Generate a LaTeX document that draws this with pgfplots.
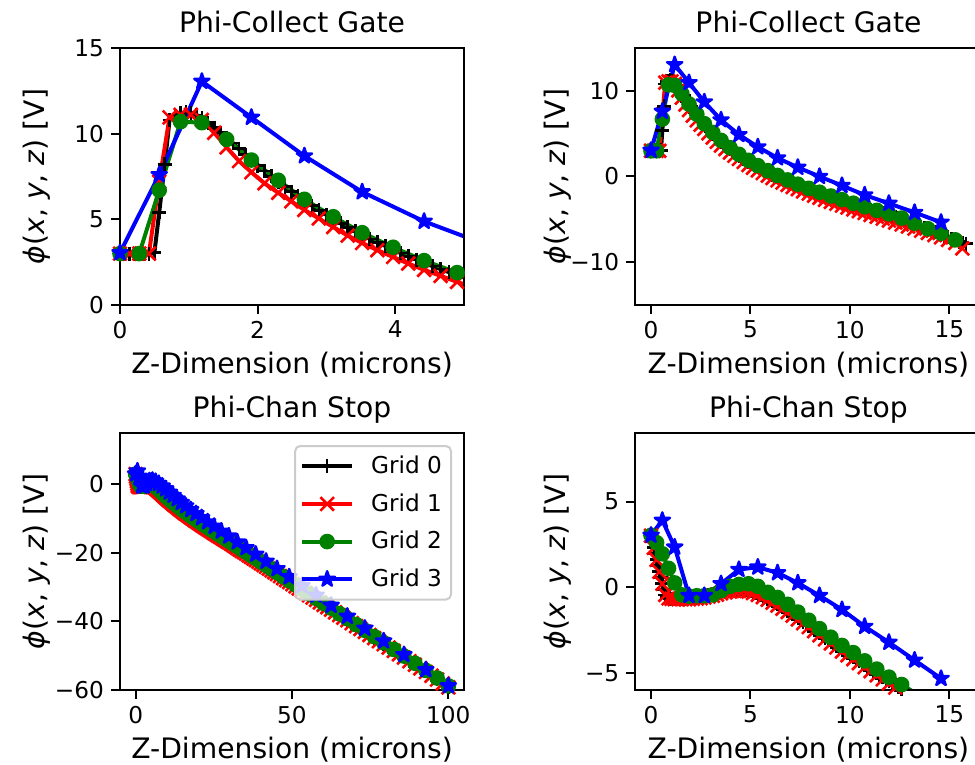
\documentclass[border=0pt]{standalone}
\usepackage{fontspec}
\setmainfont{DejaVu Sans}[ItalicFont={DejaVu Sans Oblique}]
\usepackage{pgfplots}
\pgfplotsset{compat=1.18}
\usepackage{pgfplotstable}
\definecolor{mplgreen}{rgb}{0,0.5,0}
\definecolor{legedge}{rgb}{0.8,0.8,0.8}
\newcommand{\tickfont}{\fontsize{11.6}{13.9}\selectfont}
\newcommand{\labfont}{\fontsize{14.1}{16.9}\selectfont}

\pgfdeclareplotmark{mplstar}{%
  \pgfpathmoveto{\pgfqpointpolar{90}{\pgfplotmarksize}}%
  \pgfpathlineto{\pgfqpointpolar{126}{0.382\pgfplotmarksize}}%
  \pgfpathlineto{\pgfqpointpolar{162}{\pgfplotmarksize}}%
  \pgfpathlineto{\pgfqpointpolar{198}{0.382\pgfplotmarksize}}%
  \pgfpathlineto{\pgfqpointpolar{234}{\pgfplotmarksize}}%
  \pgfpathlineto{\pgfqpointpolar{270}{0.382\pgfplotmarksize}}%
  \pgfpathlineto{\pgfqpointpolar{306}{\pgfplotmarksize}}%
  \pgfpathlineto{\pgfqpointpolar{342}{0.382\pgfplotmarksize}}%
  \pgfpathlineto{\pgfqpointpolar{18}{\pgfplotmarksize}}%
  \pgfpathlineto{\pgfqpointpolar{54}{0.382\pgfplotmarksize}}%
  \pgfpathclose
  \pgfusepathqfillstroke
}

% ---------------- Phi-Collect Gate ----------------
\pgfplotstableread{
x y
0 3.0
0.07 3.0
0.14 3.0
0.21 3.0
0.28 3.0
0.35 3.0
0.42 3.0
0.5 3.05
0.57 5.4
0.65 8.2
0.72 10.8
0.8 11.1
0.88 11.2
0.96 11.25
1.03 11.2
1.11 11.1
1.19 10.9
1.28 10.65
1.37 10.35
1.46 10.05
1.55 9.75
1.64 9.45
1.73 9.12
1.82 8.78
1.91 8.45
2.0 8.14
2.1 7.82
2.2 7.5
2.3 7.2
2.4 6.9
2.49 6.62
2.59 6.35
2.68 6.08
2.79 5.8
2.89 5.53
3.0 5.26
3.1 5.0
3.21 4.76
3.31 4.53
3.42 4.3
3.52 4.07
3.63 3.86
3.74 3.65
3.86 3.44
3.97 3.23
4.08 3.03
4.19 2.84
4.31 2.65
4.42 2.45
4.54 2.27
4.66 2.09
4.78 1.92
4.9 1.74
5.02 1.58
5.13 1.42
5.25 1.27
5.37 1.11
5.5 0.95
5.62 0.8
5.75 0.65
5.87 0.51
5.99 0.37
6.11 0.23
6.24 0.09
6.36 -0.04
6.49 -0.17
6.61 -0.3
6.74 -0.43
6.87 -0.56
7.0 -0.68
7.12 -0.8
7.25 -0.93
7.38 -1.05
7.52 -1.17
7.65 -1.29
7.79 -1.41
7.93 -1.53
8.07 -1.65
8.2 -1.76
8.34 -1.88
8.47 -1.99
8.61 -2.1
8.75 -2.21
8.9 -2.32
9.04 -2.43
9.18 -2.53
9.32 -2.64
9.46 -2.74
9.6 -2.85
9.74 -2.95
9.88 -3.06
10.03 -3.16
10.17 -3.27
10.31 -3.37
10.45 -3.47
10.6 -3.57
10.74 -3.68
10.89 -3.78
11.04 -3.89
11.2 -3.99
11.35 -4.1
11.5 -4.2
11.65 -4.3
11.81 -4.41
11.96 -4.51
12.12 -4.63
12.28 -4.75
12.44 -4.87
12.6 -5.0
12.76 -5.14
12.92 -5.28
13.09 -5.43
13.25 -5.58
13.42 -5.74
13.58 -5.9
13.75 -6.06
13.92 -6.22
14.09 -6.36
14.25 -6.5
14.42 -6.64
14.58 -6.78
14.76 -6.94
14.94 -7.1
15.12 -7.27
15.3 -7.45
15.48 -7.6
15.65 -7.72
15.83 -7.85
}\gateA

\pgfplotstableread{
x y
0 3.0
0.14 3.0
0.28 3.0
0.42 3.0
0.57 7.2
0.72 10.95
0.88 11.1
1.03 11.1
1.19 10.8
1.37 10.05
1.55 9.2
1.73 8.4
1.91 7.75
2.1 7.1
2.3 6.55
2.49 6.05
2.68 5.55
2.89 5.05
3.1 4.55
3.31 4.05
3.52 3.62
3.74 3.2
3.97 2.8
4.19 2.42
4.42 2.05
4.66 1.7
4.9 1.35
5.13 1.02
5.37 0.7
5.62 0.4
5.87 0.1
6.11 -0.18
6.36 -0.45
6.61 -0.72
6.87 -0.98
7.12 -1.23
7.38 -1.48
7.65 -1.74
7.93 -2.0
8.2 -2.24
8.47 -2.48
8.75 -2.72
9.04 -2.96
9.32 -3.18
9.6 -3.4
9.88 -3.62
10.17 -3.84
10.45 -4.05
10.74 -4.26
11.04 -4.48
11.35 -4.7
11.65 -4.92
11.96 -5.14
12.28 -5.37
12.6 -5.6
12.92 -5.84
13.25 -6.08
13.58 -6.33
13.92 -6.58
14.25 -6.84
14.58 -7.1
14.94 -7.4
15.3 -7.75
15.65 -8.4
}\gateB

\pgfplotstableread{
x y
0 3.0
0.28 3.0
0.57 6.7
0.88 10.7
1.19 10.64
1.55 9.67
1.91 8.46
2.3 7.28
2.68 6.17
3.1 5.15
3.52 4.22
3.97 3.37
4.42 2.59
4.9 1.89
5.37 1.27
5.87 0.68
6.36 0.12
6.87 -0.4
7.38 -0.9
7.93 -1.38
8.47 -1.84
9.04 -2.28
9.6 -2.7
10.17 -3.12
10.74 -3.53
11.35 -3.95
11.96 -4.36
12.6 -4.85
13.25 -5.45
13.92 -6.1
14.58 -6.62
15.3 -7.4
}\gateC

\pgfplotstableread{
x y
0 3.05
0.57 7.6
1.19 13.05
1.91 10.95
2.68 8.7
3.52 6.6
4.42 4.88
5.37 3.45
6.36 2.16
7.38 1.06
8.47 0.0
9.6 -1.06
10.74 -2.16
11.96 -3.14
13.25 -4.2
14.58 -5.35
}\gateD

% ---------------- Phi-Chan Stop ----------------
\pgfplotstableread{
x y
0 3.0
0.07 2.65
0.14 2.3
0.21 1.95
0.28 1.6
0.35 1.25
0.42 0.9
0.5 0.55
0.57 0.2
0.65 -0.15
0.72 -0.45
0.8 -0.58
0.88 -0.63
0.96 -0.65
1.03 -0.66
1.11 -0.66
1.19 -0.66
1.28 -0.66
1.37 -0.66
1.46 -0.66
1.55 -0.66
1.64 -0.66
1.73 -0.66
1.82 -0.65
1.91 -0.65
2.0 -0.64
2.1 -0.63
2.2 -0.62
2.3 -0.61
2.4 -0.59
2.49 -0.57
2.59 -0.55
2.68 -0.53
2.79 -0.5
2.89 -0.47
3.0 -0.44
3.1 -0.41
3.21 -0.37
3.31 -0.34
3.42 -0.3
3.52 -0.27
3.63 -0.24
3.74 -0.21
3.86 -0.18
3.97 -0.16
4.08 -0.14
4.19 -0.13
4.31 -0.12
4.42 -0.12
4.54 -0.12
4.66 -0.13
4.78 -0.15
4.9 -0.18
5.02 -0.22
5.13 -0.26
5.25 -0.31
5.37 -0.37
5.5 -0.43
5.62 -0.5
5.75 -0.58
5.87 -0.66
5.99 -0.74
6.11 -0.82
6.24 -0.91
6.36 -1.0
6.49 -1.09
6.61 -1.18
6.74 -1.28
6.87 -1.38
7.0 -1.48
7.12 -1.58
7.25 -1.69
7.38 -1.8
7.52 -1.91
7.65 -2.02
7.79 -2.13
7.93 -2.25
8.07 -2.36
8.2 -2.47
8.34 -2.59
8.47 -2.7
8.61 -2.82
8.75 -2.94
8.9 -3.06
9.04 -3.18
9.18 -3.3
9.32 -3.41
9.46 -3.53
9.6 -3.64
9.74 -3.75
9.88 -3.86
10.03 -3.97
10.17 -4.08
10.31 -4.19
10.45 -4.3
10.6 -4.42
10.74 -4.53
10.89 -4.65
11.04 -4.77
11.2 -4.89
11.35 -5.01
11.5 -5.13
11.65 -5.25
11.81 -5.37
11.96 -5.49
12.12 -5.61
12.28 -5.73
12.44 -5.85
12.6 -5.97
12.76 -6.09
12.92 -6.21
13.09 -6.33
13.25 -6.45
13.42 -6.57
13.58 -6.69
13.75 -6.81
13.92 -6.93
14.09 -7.05
14.25 -7.17
14.42 -7.29
14.58 -7.41
14.94 -7.65
15.3 -7.9
15.65 -8.15
16.0 -8.4
16.4 -8.65
16.8 -8.9
17.2 -9.18
17.6 -9.45
18.03 -9.73
18.45 -10.0
18.88 -10.28
19.3 -10.55
19.75 -10.83
20.2 -11.1
20.65 -11.38
21.1 -11.65
21.58 -11.95
22.05 -12.25
22.53 -12.53
23.0 -12.8
23.53 -13.13
24.05 -13.45
24.58 -13.75
25.1 -14.05
25.68 -14.4
26.25 -14.75
26.83 -15.08
27.4 -15.4
28.0 -15.75
28.6 -16.1
29.2 -16.45
29.8 -16.8
30.48 -17.2
31.15 -17.6
31.83 -18.0
32.5 -18.4
33.2 -18.83
33.9 -19.25
34.6 -19.65
35.3 -20.05
36.08 -20.53
36.85 -21.0
37.63 -21.45
38.4 -21.9
39.23 -22.4
40.05 -22.9
40.88 -23.4
41.7 -23.9
42.58 -24.43
43.45 -24.95
44.33 -25.48
45.2 -26.0
46.18 -26.6
47.15 -27.2
48.13 -27.78
49.1 -28.35
50.13 -28.98
51.15 -29.6
52.18 -30.23
53.2 -30.85
54.33 -31.53
55.45 -32.2
56.58 -32.88
57.7 -33.55
58.9 -34.28
60.1 -35.0
61.3 -35.7
62.5 -36.4
63.8 -37.2
65.1 -38.0
66.4 -38.75
67.7 -39.5
69.1 -40.35
70.5 -41.2
71.9 -42.05
73.3 -42.9
74.8 -43.8
76.3 -44.7
77.8 -45.6
79.3 -46.5
80.93 -47.48
82.55 -48.45
84.18 -49.43
85.8 -50.4
87.55 -51.45
89.3 -52.5
91.05 -53.55
92.8 -54.6
94.6 -55.7
96.4 -56.8
98.2 -57.95
100.0 -59.1
}\chanA

\pgfplotstableread{
x y
0 3.0
0.14 2.3
0.28 1.6
0.42 0.9
0.57 0.2
0.72 -0.45
0.88 -0.65
1.03 -0.68
1.19 -0.7
1.37 -0.7
1.55 -0.7
1.73 -0.7
1.91 -0.7
2.1 -0.68
2.3 -0.66
2.49 -0.64
2.68 -0.6
2.89 -0.55
3.1 -0.5
3.31 -0.43
3.52 -0.36
3.74 -0.3
3.97 -0.25
4.19 -0.22
4.42 -0.21
4.66 -0.22
4.9 -0.26
5.13 -0.34
5.37 -0.45
5.62 -0.58
5.87 -0.73
6.11 -0.9
6.36 -1.07
6.61 -1.26
6.87 -1.45
7.12 -1.66
7.38 -1.88
7.65 -2.1
7.93 -2.33
8.2 -2.56
8.47 -2.8
8.75 -3.04
9.04 -3.28
9.32 -3.52
9.6 -3.75
9.88 -3.97
10.17 -4.2
10.45 -4.43
10.74 -4.67
11.04 -4.9
11.35 -5.14
11.65 -5.38
11.96 -5.62
12.28 -5.86
12.6 -6.1
12.92 -6.34
13.25 -6.58
13.58 -6.82
13.92 -7.06
14.25 -7.3
14.58 -7.55
14.94 -7.8
15.3 -8.05
15.65 -8.3
16.0 -8.55
16.4 -8.8
16.8 -9.05
17.2 -9.33
17.6 -9.6
18.03 -9.88
18.45 -10.15
18.88 -10.43
19.3 -10.7
19.75 -10.98
20.2 -11.25
20.65 -11.53
21.1 -11.8
21.58 -12.1
22.05 -12.4
22.53 -12.68
23.0 -12.95
23.53 -13.28
24.05 -13.6
24.58 -13.9
25.1 -14.2
25.68 -14.55
26.25 -14.9
26.83 -15.23
27.4 -15.55
28.0 -15.9
28.6 -16.25
29.2 -16.6
29.8 -16.95
30.48 -17.35
31.15 -17.75
31.83 -18.15
32.5 -18.55
33.2 -18.98
33.9 -19.4
34.6 -19.8
35.3 -20.2
36.08 -20.68
36.85 -21.15
37.63 -21.6
38.4 -22.05
39.23 -22.55
40.05 -23.05
40.88 -23.55
41.7 -24.05
42.58 -24.58
43.45 -25.1
44.33 -25.63
45.2 -26.15
46.18 -26.75
47.15 -27.35
48.13 -27.93
49.1 -28.5
50.13 -29.13
51.15 -29.75
52.18 -30.38
53.2 -31.0
54.33 -31.68
55.45 -32.35
56.58 -33.03
57.7 -33.7
58.9 -34.43
60.1 -35.15
61.3 -35.85
62.5 -36.55
63.8 -37.35
65.1 -38.15
66.4 -38.9
67.7 -39.65
69.1 -40.5
70.5 -41.35
71.9 -42.2
73.3 -43.05
74.8 -43.95
76.3 -44.85
77.8 -45.75
79.3 -46.65
80.93 -47.63
82.55 -48.6
84.18 -49.58
85.8 -50.55
87.55 -51.6
89.3 -52.65
91.05 -53.7
92.8 -54.75
94.6 -55.85
96.4 -56.95
98.2 -58.1
100.0 -59.25
}\chanB

\pgfplotstableread{
x y
0 3.03
0.28 2.6
0.57 1.95
0.88 1.1
1.19 0.25
1.55 -0.45
1.91 -0.52
2.3 -0.5
2.68 -0.5
3.1 -0.45
3.52 -0.2
3.97 0.05
4.42 0.16
4.9 0.2
5.37 0.05
5.87 -0.3
6.36 -0.6
6.87 -1.0
7.38 -1.45
7.93 -1.93
8.47 -2.42
9.04 -2.92
9.6 -3.4
10.17 -3.82
10.74 -4.3
11.35 -4.78
11.96 -5.25
12.6 -5.68
13.25 -6.15
13.92 -6.65
14.58 -7.1
15.3 -7.6
16.0 -8.1
16.8 -8.6
17.6 -9.15
18.45 -9.7
19.3 -10.25
20.2 -10.8
21.1 -11.35
22.05 -11.95
23.0 -12.5
24.05 -13.15
25.1 -13.75
26.25 -14.45
27.4 -15.1
28.6 -15.8
29.8 -16.5
31.15 -17.3
32.5 -18.1
33.9 -18.95
35.3 -19.75
36.85 -20.7
38.4 -21.6
40.05 -22.6
41.7 -23.6
43.45 -24.65
45.2 -25.7
47.15 -26.9
49.1 -28.05
51.15 -29.3
53.2 -30.55
55.45 -31.9
57.7 -33.25
60.1 -34.7
62.5 -36.1
65.1 -37.7
67.7 -39.2
70.5 -40.9
73.3 -42.6
76.3 -44.4
79.3 -46.2
82.55 -48.15
85.8 -50.1
89.3 -52.2
92.8 -54.3
96.4 -56.5
100.0 -58.8
}\chanC

\pgfplotstableread{
x y
0 3.03
0.57 3.9
1.19 2.34
1.91 -0.49
2.68 -0.49
3.52 0.2
4.42 1.03
5.37 1.17
6.36 0.84
7.38 0.25
8.47 -0.49
9.6 -1.31
10.74 -2.29
11.96 -3.22
13.25 -4.26
14.58 -5.33
16.0 -6.3
17.6 -7.4
19.3 -8.55
21.1 -9.75
23.0 -10.95
25.1 -12.25
27.4 -13.65
29.8 -15.1
32.5 -16.8
35.3 -18.5
38.4 -20.4
41.7 -22.45
45.2 -24.6
49.1 -27.0
53.2 -29.55
57.7 -32.35
62.5 -35.3
67.7 -38.5
73.3 -42.0
79.3 -45.7
85.8 -49.7
92.8 -54.1
100.0 -58.8
}\chanD

\pgfplotsset{
  mplax/.style={
    scale only axis, height=128.5pt,
    axis line style={line width=1pt},
    every tick/.style={black, line width=1pt},
    major tick length=4.5pt,
    tick align=outside,
    xtick pos=left, ytick pos=left,
    enlargelimits=false,
    axis on top,
    tick label style={font=\tickfont},
    every axis title/.style={at={(axis description cs:0.5,1)}, anchor=base, yshift=7.7pt, font=\labfont},
    every axis x label/.style={at={(axis description cs:0.5,0)}, anchor=north, inner sep=0pt, yshift=-23.5pt, font=\labfont},
    xlabel={Z-Dimension (microns)},
    ylabel={\textit{ϕ}(\textit{x}, \textit{y}, \textit{z}) [V]},
  },
  leftax/.style={mplax, width=172pt,
    every axis y label/.style={at={(axis description cs:-0.2006,0.5)}, rotate=90, anchor=south, inner sep=0pt, font=\labfont}},
  rightax/.style={mplax, width=173.15pt,
    every axis y label/.style={at={(axis description cs:-0.1826,0.5)}, rotate=90, anchor=south, inner sep=0pt, font=\labfont}},
  g0/.style={black, line width=2pt, line join=round, mark=+, mark size=3.5pt, mark options={line width=1.3pt}},
  g1/.style={red, line width=2pt, line join=round, mark=x, mark size=4.8pt, mark options={line width=1.3pt}},
  g2/.style={mplgreen, line width=2pt, line join=round, mark=*, mark size=3.3pt, mark options={line width=1.2pt, fill=mplgreen}},
  g3/.style={blue, line width=2pt, line join=round, mark=mplstar, mark size=4.0pt, mark options={line width=1.2pt, fill=blue}},
}

\begin{document}
\begin{tikzpicture}
\path[use as bounding box] (0,0) rectangle (487.5pt,382.5pt);

% Top-left
\begin{axis}[leftax, at={(60pt,230pt)}, anchor=south west,
  xmin=0, xmax=5, ymin=0, ymax=15,
  xtick={0,2,4}, xticklabels={0,2,4},
  ytick={0,5,10,15}, yticklabels={0,5,10,15},
  title={Phi-Collect Gate}]
\addplot[g0] table {\gateA};
\addplot[g1] table {\gateB};
\addplot[g2] table {\gateC};
\addplot[g3] table {\gateD};
\end{axis}

% Top-right
\begin{axis}[rightax, at={(317.65pt,230pt)}, anchor=south west,
  xmin=-0.79, xmax=16.62, ymin=-15, ymax=15,
  xtick={0,5,10,15}, xticklabels={0,5,10,15},
  ytick={-10,0,10}, yticklabels={−10,0,10},
  title={Phi-Collect Gate}]
\addplot[g0] table {\gateA};
\addplot[g1] table {\gateB};
\addplot[g2] table {\gateC};
\addplot[g3] table {\gateD};
\end{axis}

% Bottom-left
\begin{axis}[leftax, at={(60pt,37.5pt)}, anchor=south west,
  xmin=-5, xmax=105, ymin=-60, ymax=15,
  xtick={0,50,100}, xticklabels={0,50,100},
  ytick={-60,-40,-20,0}, yticklabels={−60,−40,−20,0},
  title={Phi-Chan Stop},
  legend style={at={(axis description cs:1,1)}, anchor=north east, xshift=-6pt, yshift=-6pt,
    draw=legedge, line width=1pt, rounded corners=2.5pt, fill=white, fill opacity=0.8, text opacity=1,
    font=\tickfont, inner xsep=2.5pt, inner ysep=3pt, row sep=4.5pt,
    nodes={inner sep=2pt},
    /tikz/every odd column/.append style={column sep=6.5pt}},
  legend cell align=left,
  legend image code/.code={\draw[mark repeat=2, mark phase=2, fill opacity=1, draw opacity=1, sharp corners] plot coordinates {(0pt,0pt) (12.5pt,0pt) (25pt,0pt)};}]
\addplot[g0] table {\chanA};
\addplot[g1] table {\chanB};
\addplot[g2] table {\chanC};
\addplot[g3] table {\chanD};
\legend{Grid 0, Grid 1, Grid 2, Grid 3}
\end{axis}

% Bottom-right
\begin{axis}[rightax, at={(317.65pt,37.5pt)}, anchor=south west,
  xmin=-0.79, xmax=16.62, ymin=-6, ymax=9,
  xtick={0,5,10,15}, xticklabels={0,5,10,15},
  ytick={-5,0,5}, yticklabels={−5,0,5},
  title={Phi-Chan Stop}]
\addplot[g0, restrict x to domain=-1:15.9] table {\chanA};
\addplot[g1, restrict x to domain=-1:15.9] table {\chanB};
\addplot[g2, restrict x to domain=-1:15.9] table {\chanC};
\addplot[g3, restrict x to domain=-1:15.9] table {\chanD};
\end{axis}
\end{tikzpicture}
\end{document}
